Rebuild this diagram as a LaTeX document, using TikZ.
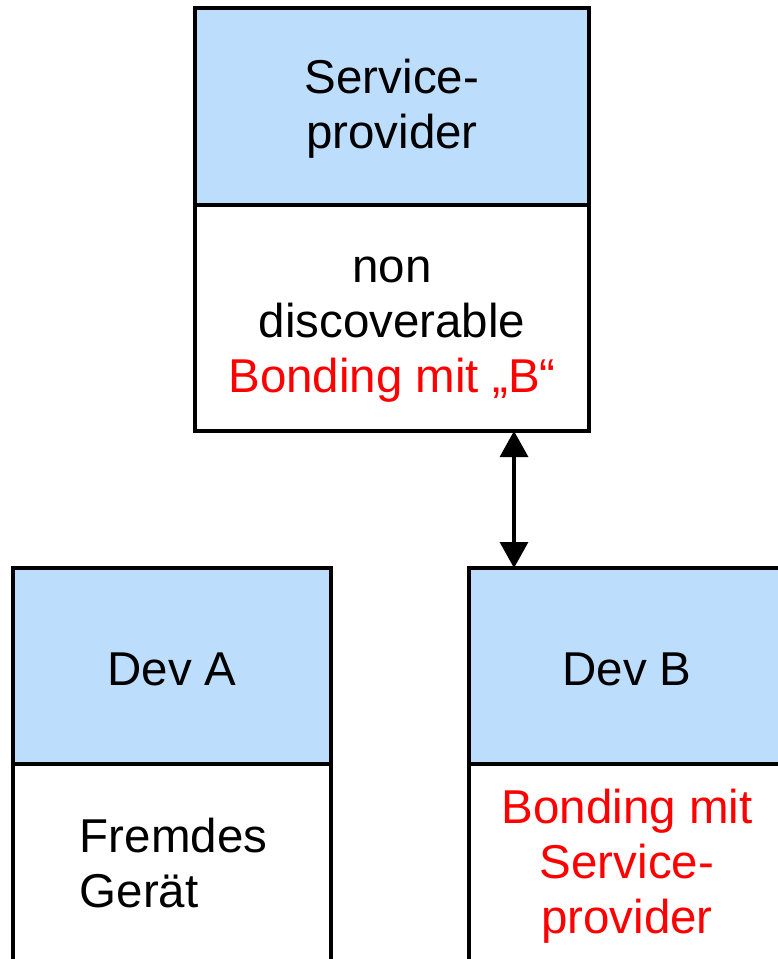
\documentclass[tikz,border=0pt]{standalone}
\usepackage{fontspec}
\setmainfont{Liberation Sans}
\usetikzlibrary{arrows.meta}
\definecolor{hdrblue}{RGB}{189,221,253}
\tikzset{
  box/.style={draw=black, line width=3.8pt, inner sep=0pt, outer sep=0pt, rectangle},
  hdrbox/.style={box, fill=hdrblue},
  bodybox/.style={box, fill=white},
  lbl/.style={inner sep=0pt, outer sep=0pt, font=\fontsize{47.5}{55}\selectfont, anchor=base},
  link/.style={line width=3.2pt, {Triangle[width=28pt,length=26pt]}-{Triangle[width=28pt,length=26pt]}}
}
\begin{document}
\begin{tikzpicture}[x=1pt, y=-1pt]
\clip (0,0) rectangle (778,959);
\useasboundingbox (0,0) rectangle (778,959);
% Service provider
\node[hdrbox, minimum width=394pt, minimum height=197pt] (sph) at (392,106.5) {};
\node[bodybox, minimum width=394pt, minimum height=226pt] (spb) at (392,318) {};
% Dev A
\node[hdrbox, minimum width=318pt, minimum height=196pt] (dah) at (172,666) {};
\node[bodybox, minimum width=318pt, minimum height=236pt] (dab) at (172,882) {};
% Dev B
\node[hdrbox, minimum width=316pt, minimum height=196pt] (dbh) at (627,666) {};
\node[bodybox, minimum width=316pt, minimum height=236pt] (dbb) at (627,882) {};
% texts (base = baseline of last line)
\node[lbl, align=center] (t1) at (392,148) {Service-\\provider};
\node[lbl, align=center] (t2) at (392,392) {non\\discoverable\\\textcolor{red}{Bonding mit „B“}};
\node[lbl] (t3) at (172,685) {Dev A};
\node[lbl, align=left] (t4) at (173.5,907) {Fremdes\\Gerät};
\node[lbl] (t5) at (627,685) {Dev B};
\node[lbl, align=center, text=red] (t6) at (627,933) {Bonding mit\\Service-\\provider};
% arrow
\coordinate (ax) at (514,0);
\draw[link] (spb.south -| ax) -- (dbh.north -| ax);
\end{tikzpicture}
\end{document}
